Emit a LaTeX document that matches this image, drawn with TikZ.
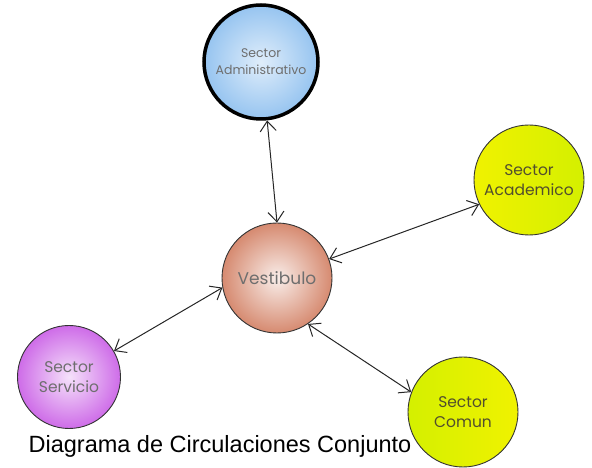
\documentclass[tikz,border=0pt]{standalone}
\usepackage{fontspec}
\setmainfont{Liberation Sans}
\newfontfamily\handfont{Poppins}
\usetikzlibrary{arrows.meta}
\definecolor{adminblue}{RGB}{150,196,240}
\definecolor{salmon}{RGB}{214,138,112}
\definecolor{academ}{RGB}{240,242,0}
\definecolor{lilac}{RGB}{206,108,232}
\definecolor{lime}{RGB}{212,240,0}
\definecolor{txtgray}{RGB}{110,110,110}
\tikzset{
  sector/.style = {
    circle, minimum size=110pt, inner sep=0pt,
    draw=black!80, line width=0.9pt, align=center,
    font=\handfont\fontsize{15.5}{20}\selectfont, text=txtgray
  },
  link/.style = {
    {Straight Barb[length=10pt,width=16pt]}-{Straight Barb[length=10pt,width=16pt]},
    line width=1pt, draw=black!85
  }
}

\begin{document}
\begin{tikzpicture}[x=1pt,y=1pt]
\useasboundingbox (0,0) rectangle (592,468);
\node[sector, minimum size=114pt, draw=black, line width=3.5pt,
      inner color=white!70!adminblue, outer color=adminblue,
      font=\handfont\fontsize{12.5}{17}\selectfont] (adm) at (261,406) {Sector\\Administrativo};
\node[sector, inner color=white!85!salmon, outer color=salmon,
      font=\handfont\fontsize{17}{20}\selectfont] (ves) at (277,190) {Vestibulo};
\node[sector, left color=academ, right color=lime,
      text=black!55!olive] (aca) at (529,288) {Sector\\Academico};
\node[sector, minimum size=103pt, inner color=white!80!lilac, outer color=lilac] (ser) at (69,91) {Sector\\Servicio};
\node[sector, left color=lime, right color=academ,
      text=black!55!olive] (com) at (463,56) {Sector\\Comun};
% two-way links to the hall
\draw[link] (ves.90) -- (adm.276);
\draw[link] (ves.20) -- (aca.206);
\draw[link] (ves.190) -- (ser.30);
\draw[link] (ves.304) -- (com.159);
\node[anchor=base, font=\fontsize{23.5}{28}\selectfont] (cap) at (220,15) {Diagrama de Circulaciones Conjunto};
\end{tikzpicture}
\end{document}
